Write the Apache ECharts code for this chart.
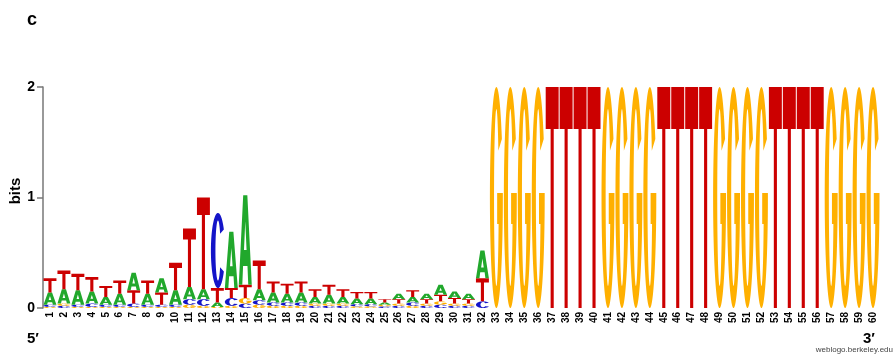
<!DOCTYPE html>
<html>
<head>
<meta charset="utf-8">
<script src="https://cdn.jsdelivr.net/npm/echarts@6/dist/echarts.min.js"></script>
<style>
  html, body { margin: 0; padding: 0; background: #fff; }
  #chart { width: 894px; height: 356px; }
</style>
</head>
<body>
<div id="chart"></div>
<script>
// Sequence positions along the x axis (5' -> 3')
const positions = Array.from({ length: 60 }, (_, i) => String(i + 1));

// Information content (bits) contributed by each base at each position
const bitsA = [0.11, 0.13, 0.13, 0.11, 0.07, 0.10, 0.16, 0.10, 0.13, 0.13,
               0.11, 0.09, 0.04, 0.51, 0.81, 0.10, 0.09, 0.08, 0.09, 0.06,
               0.08, 0.06, 0.05, 0.05, 0.02, 0.05, 0.05, 0.05, 0.09, 0.06,
               0.05, 0.25,
               0, 0, 0, 0, 0, 0, 0, 0, 0, 0, 0, 0, 0, 0,
               0, 0, 0, 0, 0, 0, 0, 0, 0, 0, 0, 0, 0, 0];
const bitsC = [0.02, 0.02, 0.02, 0.03, 0.02, 0.02, 0.03, 0.02, 0.02, 0.02,
               0.05, 0.06, 0.68, 0.07, 0.04, 0.04, 0.03, 0.03, 0.03, 0.02,
               0.02, 0.02, 0.02, 0.02, 0.015, 0.02, 0.03, 0.02, 0.03, 0.02,
               0.02, 0.06,
               0, 0, 0, 0, 0, 0, 0, 0, 0, 0, 0, 0, 0, 0,
               0, 0, 0, 0, 0, 0, 0, 0, 0, 0, 0, 0, 0, 0];
const bitsG = [0.01, 0.02, 0.01, 0.01, 0.01, 0.01, 0.01, 0.01, 0.01, 0.01,
               0.03, 0.02, 0.01, 0.02, 0.05, 0.03, 0.02, 0.02, 0.02, 0.02,
               0.02, 0.02, 0.015, 0.015, 0.015, 0.02, 0.02, 0.02, 0.03, 0.02,
               0.02, 0,
               2, 2, 2, 2, 0, 0, 0, 0, 2, 2, 2, 2, 0, 0,
               0, 0, 2, 2, 2, 2, 0, 0, 0, 0, 2, 2, 2, 2];
const bitsT = [0.13, 0.17, 0.15, 0.13, 0.10, 0.12, 0.12, 0.12, 0.11, 0.25,
               0.53, 0.83, 0.13, 0.09, 0.12, 0.26, 0.10, 0.09, 0.10, 0.07,
               0.09, 0.07, 0.06, 0.06, 0.03, 0.04, 0.06, 0.04, 0.06, 0.05,
               0.04, 0.21,
               0, 0, 0, 0, 2, 2, 2, 2, 0, 0, 0, 0, 2, 2,
               2, 2, 0, 0, 0, 0, 2, 2, 2, 2, 0, 0, 0, 0];

// Y axis ticks
const yTicks = [0, 1, 2];

const baseColors = { A: '#21a82c', C: '#1414c8', G: '#ffb000', T: '#cc0000' };
const baseBits = { A: bitsA, C: bitsC, G: bitsG, T: bitsT };

// ---- glyph outlines in a 100x100 box (y grows downward) ----
function arcPts(cx, cy, rx, ry, a0, a1, n) {
  const pts = [];
  for (let k = 0; k <= n; k++) {
    const a = (a0 + (a1 - a0) * k / n) * Math.PI / 180;
    pts.push([cx + rx * Math.cos(a), cy + ry * Math.sin(a)]);
  }
  return pts;
}
function toPath(pts) {
  return 'M' + pts.map(p => p[0].toFixed(2) + ' ' + p[1].toFixed(2)).join(' L') + ' Z';
}
const outerRx = 50, outerRy = 50, innerRx = 18, innerRy = 40;

const glyphC = toPath(
  arcPts(50, 50, outerRx, outerRy, -34, -326, 64)
    .concat(arcPts(50, 50, innerRx, innerRy, -326, -34, 64))
);

const gBarY = 48, gBarLow = 62;
const gInnerA = -360 + Math.asin((gBarLow - 50) / innerRy) * 180 / Math.PI;
const glyphG = toPath(
  arcPts(50, 50, outerRx, outerRy, -32, -360, 64)
    .concat([[100, gBarY], [56, gBarY], [56, gBarLow]])
    .concat(arcPts(50, 50, innerRx, innerRy, gInnerA, -32, 64))
);

const glyphA = 'M0 100 L34 0 L66 0 L100 100 L73 100 L67 79 L33 79 L27 100 Z ' +
               'M40 61 L60 61 L50 29 Z';
const glyphT = 'M0 0 L100 0 L100 19 L62 19 L62 100 L38 100 L38 19 L0 19 Z';

const glyphs = { A: glyphA, C: glyphC, G: glyphG, T: glyphT };

const chart = echarts.init(document.getElementById('chart'), null, { renderer: 'canvas' });

function renderStack(params, api) {
  const idx = api.value(0);
  const stack = ['A', 'C', 'G', 'T']
    .map(b => ({ base: b, h: baseBits[b][idx] }))
    .filter(s => s.h > 0)
    .sort((a, b) => a.h - b.h);
  const band = api.size([1, 0])[0];
  const center = api.coord([idx, 0])[0];
  const w = band - 1;
  const children = [];
  let y0 = 0;
  stack.forEach(s => {
    const bottom = api.coord([idx, y0])[1];
    const top = api.coord([idx, y0 + s.h])[1];
    children.push({
      type: 'path',
      shape: {
        pathData: glyphs[s.base],
        x: center - w / 2,
        y: top,
        width: w,
        height: Math.max(bottom - top, 0.3),
        layout: 'cover'
      },
      style: { fill: baseColors[s.base], stroke: null }
    });
    y0 += s.h;
  });
  return { type: 'group', children };
}

const font = '"Liberation Sans", Arial, Helvetica, sans-serif';

chart.setOption({
  animation: false,
  backgroundColor: '#ffffff',
  grid: { left: 43, right: 14, top: 87, bottom: 48, containLabel: false },
  xAxis: {
    type: 'category',
    data: positions,
    boundaryGap: true,
    axisLine: { show: false },
    axisTick: { show: false },
    axisLabel: {
      interval: 0,
      rotate: 90,
      margin: 4,
      fontFamily: font,
      fontWeight: 'bold',
      fontSize: 10,
      color: '#000'
    },
    splitLine: { show: false }
  },
  yAxis: {
    type: 'value',
    min: yTicks[0],
    max: yTicks[yTicks.length - 1],
    interval: 1,
    axisLine: { show: true, lineStyle: { color: '#777', width: 1.5 } },
    axisTick: { show: true, length: 6, lineStyle: { color: '#777', width: 1.5 } },
    axisLabel: {
      margin: 8,
      fontFamily: font,
      fontWeight: 'bold',
      fontSize: 14,
      color: '#000'
    },
    splitLine: { show: false }
  },
  series: [{
    type: 'custom',
    renderItem: renderStack,
    data: positions.map((p, i) => [i]),
    encode: { x: 0 },
    clip: false,
    silent: true
  }],
  graphic: [
    { type: 'text', left: 27, top: 11,
      style: { text: 'c', font: 'bold 18px ' + font, fill: '#000' } },
    { type: 'text', x: 16, y: 191, rotation: Math.PI / 2,
      style: { text: 'bits', font: 'bold 15px ' + font, fill: '#000',
               align: 'center', verticalAlign: 'middle' } },
    { type: 'text', left: 27, top: 331,
      style: { text: '5\u2032', font: 'bold 15px ' + font, fill: '#000' } },
    { type: 'text', left: 863, top: 331,
      style: { text: '3\u2032', font: 'bold 15px ' + font, fill: '#000' } },
    { type: 'text', right: 1, top: 346,
      style: { text: 'weblogo.berkeley.edu', font: '8px ' + font, fill: '#444' } }
  ]
});
</script>
</body>
</html>
